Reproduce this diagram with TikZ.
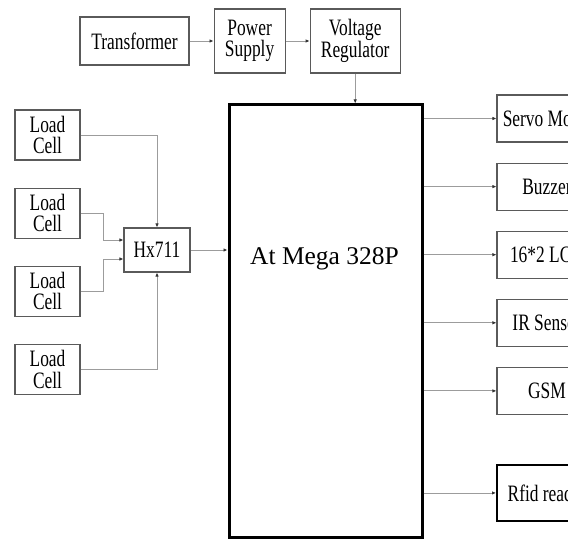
\documentclass[tikz,border=0pt]{standalone}
\usepackage{fontspec}
\setmainfont{Liberation Serif}
\newfontfamily\narrowserif{Liberation Serif}[FakeStretch=0.74]
\usepackage{tikz}
\usetikzlibrary{arrows.meta,positioning,calc}
\definecolor{boxline}{HTML}{5A5A5A}
\definecolor{wireline}{HTML}{9C9C9C}
\tikzset{
  blockbox/.style={
    rectangle, draw=boxline, line width=1.1pt, fill=white,
    inner sep=0pt, align=center,
    font=\narrowserif\fontsize{23.5}{21.5}\selectfont
  },
  cellbox/.style={blockbox, minimum width=65pt, minimum height=50pt},
  outbox/.style={blockbox, minimum width=100pt, minimum height=47pt},
  mcubox/.style={rectangle, draw=black, line width=3pt, fill=white, inner sep=0pt},
  wire/.style={draw=wireline, line width=0.9pt, -{Latex[length=4pt,width=3.5pt,color=black!80]}}
}
\begin{document}
\begin{tikzpicture}[x=1pt,y=1pt,node distance=24pt]
\useasboundingbox (0,0) rectangle (568,539);
\clip (0,0) rectangle (568,539);

% supply chain
\node[blockbox, minimum width=109pt, minimum height=48pt] (transformer) at (134.5,498) {Transformer};
\node[blockbox, minimum width=71pt, minimum height=64pt, right=24pt of transformer] (supply) {Power\\Supply};
\node[blockbox, minimum width=90pt, minimum height=64pt, right=24pt of supply] (regulator) {Voltage\\Regulator};

% controller
\node[mcubox, minimum width=193pt, minimum height=432.5pt] (mcu) at (325.5,217.75) {};
\node[font=\fontsize{25.5}{25.5}\selectfont] (mcutext) at ($(mcu.north)+(-1,-155)$) {At Mega 328P};

% load cells
\node[blockbox, minimum width=66pt, minimum height=44pt] (hx) at (157,289) {Hx711};
\node[cellbox] (cell1) at (47.5,404) {Load\\Cell};
\node[cellbox, below=27pt of cell1] (cell2) {Load\\Cell};
\node[cellbox, below=27pt of cell2] (cell3) {Load\\Cell};
\node[cellbox, below=27pt of cell3] (cell4) {Load\\Cell};
\coordinate (hxinA) at ($(hx.west)+(0,10)$);
\coordinate (hxinB) at ($(hx.west)+(0,-9)$);

% outputs
\node[outbox] (servo) at (547,420.5) {Servo Motor};
\node[outbox, below=20pt of servo] (buzzer) {Buzzer};
\node[outbox, below=20pt of buzzer] (lcd) {16*2 LCD};
\node[outbox, below=20pt of lcd] (irsensor) {IR Sensor};
\node[outbox, below=20pt of irsensor] (gsm) {GSM};
\node[outbox, draw=black, line width=2pt, minimum height=56pt, below=49pt of gsm] (rfid) {Rfid reader};

\draw[wire] (transformer) -- (supply);
\draw[wire] (supply) -- (regulator);
\draw[wire] (regulator.south) -- (regulator.south |- mcu.north);
\draw[wire] (cell1.east) -| (hx.north);
\draw[wire] (cell2.east) -- ++(23,0) |- (hxinA);
\draw[wire] (cell3.east) -- ++(23,0) |- (hxinB);
\draw[wire] (cell4.east) -| (hx.south);
\draw[wire] (hx.east) -- (hx.east -| mcu.west);
\foreach \dev in {servo,buzzer,lcd,irsensor,gsm,rfid}
  \draw[wire] (\dev.west -| mcu.east) -- (\dev.west);
\end{tikzpicture}
\end{document}
